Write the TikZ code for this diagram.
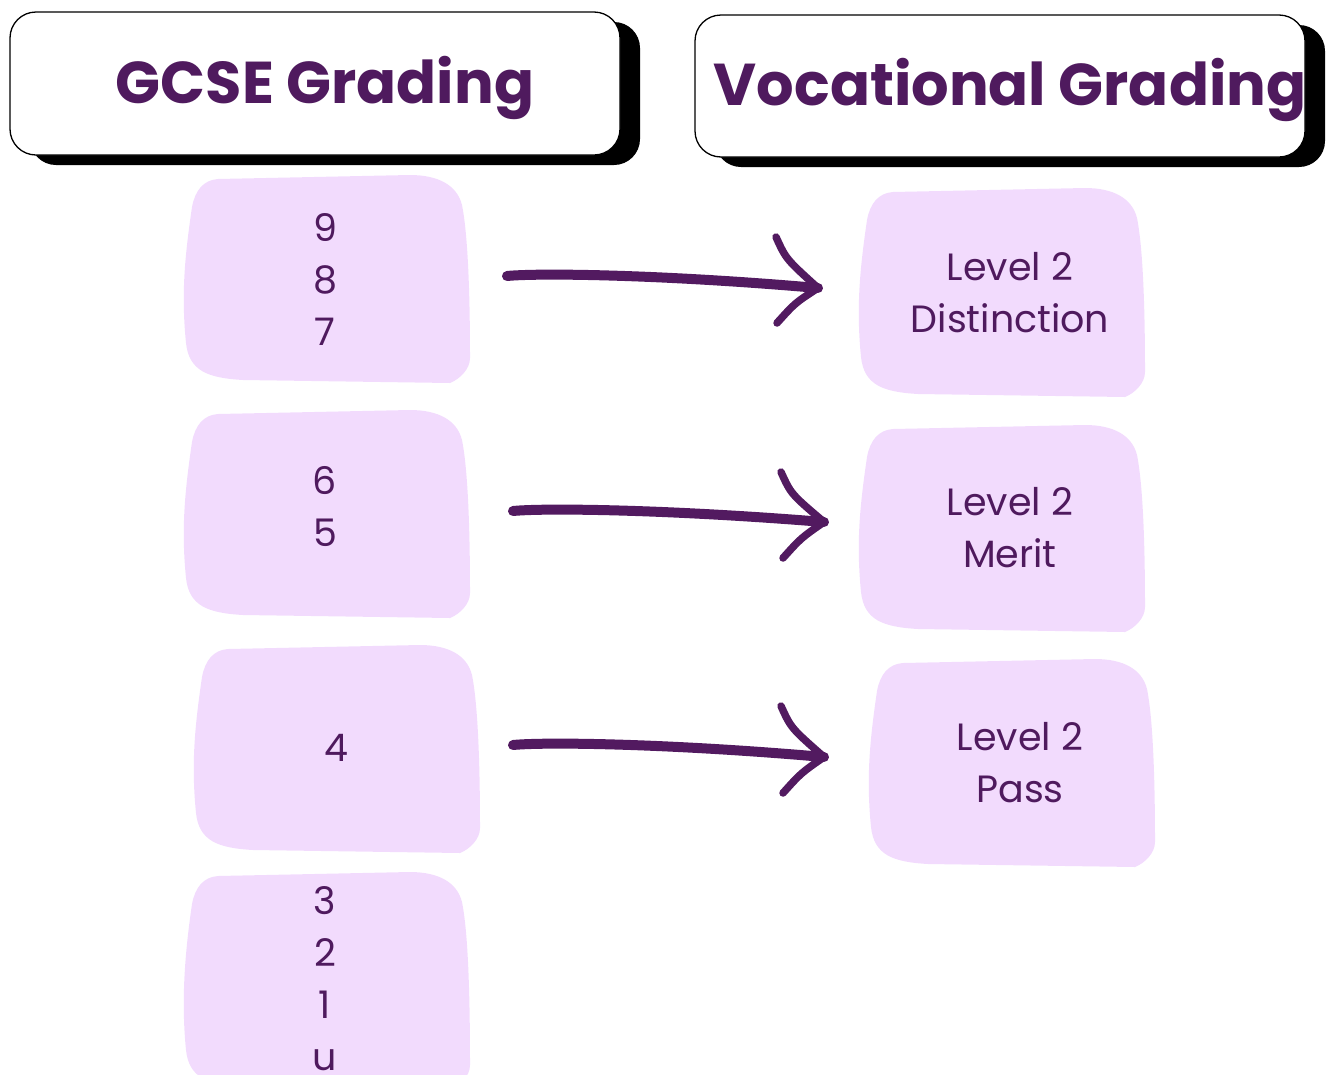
\documentclass[tikz,border=0pt]{standalone}
\usepackage{fontspec}
\usetikzlibrary{calc}
\setmainfont{Poppins}
\definecolor{txt}{HTML}{4F1A5E}
\definecolor{arr}{HTML}{521A60}
\definecolor{boxc}{HTML}{F2DBFD}
\newcommand\myblob[5]{% name x1 y1 x2 y2
 \fill[boxc] ({#2+35},{#3+4}) -- ({#4-60},{#3}) .. controls ({#4-32},{#3}) and ({#4-13},{#3+10}) .. ({#4-8},{#3+30})
   .. controls ({#4-2},{#3+60}) and ({#4},{#3+120}) .. ({#4},{#5-25})
   .. controls ({#4},{#5-14}) and ({#4-10},{#5-4}) .. ({#4-20},{#5})
   -- ({#2+60},{#5-3}) .. controls ({#2+25},{#5-5}) and ({#2+6},{#5-12}) .. ({#2+3},{#5-40})
   .. controls ({#2-2},{#5-90}) and ({#2+2},{#3+80}) .. ({#2+9},{#3+32})
   .. controls ({#2+12},{#3+16}) and ({#2+20},{#3+5}) .. ({#2+35},{#3+4}) -- cycle;
 \coordinate (#1) at ({(#2+#4)/2},{(#3+#5)/2});
}
\newcommand\myhead[5]{%
 \fill[black, rounded corners=26] ({#2+20},{#3+10}) rectangle ({#4+20},{#5+10});
 \draw[black, fill=white, line width=1.3, rounded corners=26] (#2,#3) rectangle (#4,#5);
 \coordinate (#1) at ({(#2+#4)/2},{(#3+#5)/2});
}
\tikzset{
 lbl/.style={text=txt, font=\fontsize{38}{52}\selectfont, align=center, inner sep=0},
 hd/.style={text=txt, font=\fontsize{59}{64}\selectfont\bfseries, inner sep=0},
 shaft/.style={draw=arr, line width=10, line cap=round},
 tip/.style={draw=arr, line width=7.5, line cap=round}
}
\begin{document}
\begin{tikzpicture}[x=1pt,y=-1pt]
\useasboundingbox (0,0) rectangle (1327,1074);
\myhead{hg}{10}{12}{620}{155}
\myhead{hv}{695}{15}{1305}{157}
\node[hd] (tg) at (325,88) {GCSE Grading};
\node[hd] (tv) at (1010,90) {Vocational Grading};
\begin{scope}
\clip (0,0) rectangle (1327,1074);
\myblob{b1}{183}{175}{470}{383}
\myblob{b2}{183}{410}{470}{618}
\myblob{b3}{193}{645}{480}{853}
\myblob{b4}{183}{872}{470}{1090}
\myblob{r1}{858}{188}{1145}{397}
\myblob{r2}{858}{425}{1145}{632}
\myblob{r3}{868}{659}{1155}{867}
\end{scope}
\node[lbl] (g1) at (325,279) {9\\8\\7};
\node[lbl] (g2) at (325,507) {6\\5};
\node[lbl] (g3) at (336,748) {4};
\node[lbl, anchor=north] (g4) at (325,886) {3\\2\\1\\u};
\node[lbl] (v1) at (1010,293) {Level 2\\Distinction};
\node[lbl] (v2) at (1010,528) {Level 2\\Merit};
\node[lbl] (v3) at (1020,763) {Level 2\\Pass};
% arrows
\coordinate (s1) at (507,276); \coordinate (e1) at (818,288);
\coordinate (u1) at (776,237); \coordinate (d1) at (777,323);
\coordinate (s2) at (513,511); \coordinate (e2) at (824,522);
\coordinate (u2) at (781,472); \coordinate (d2) at (783,558);
\coordinate (s3) at (513,745); \coordinate (e3) at (824,757);
\coordinate (u3) at (781,706); \coordinate (d3) at (783,793);
\foreach \i in {1,2,3}{
 \draw[shaft] (s\i) .. controls ($(s\i)+(30,-3)$) and ($(s\i)+(150,-2)$) .. (e\i);
 \draw[tip] (u\i) .. controls ($(u\i)+(10,22)$) .. (e\i);
 \draw[tip] (d\i) .. controls ($(d\i)+(18,-20)$) .. (e\i);
}
\end{tikzpicture}
\end{document}
